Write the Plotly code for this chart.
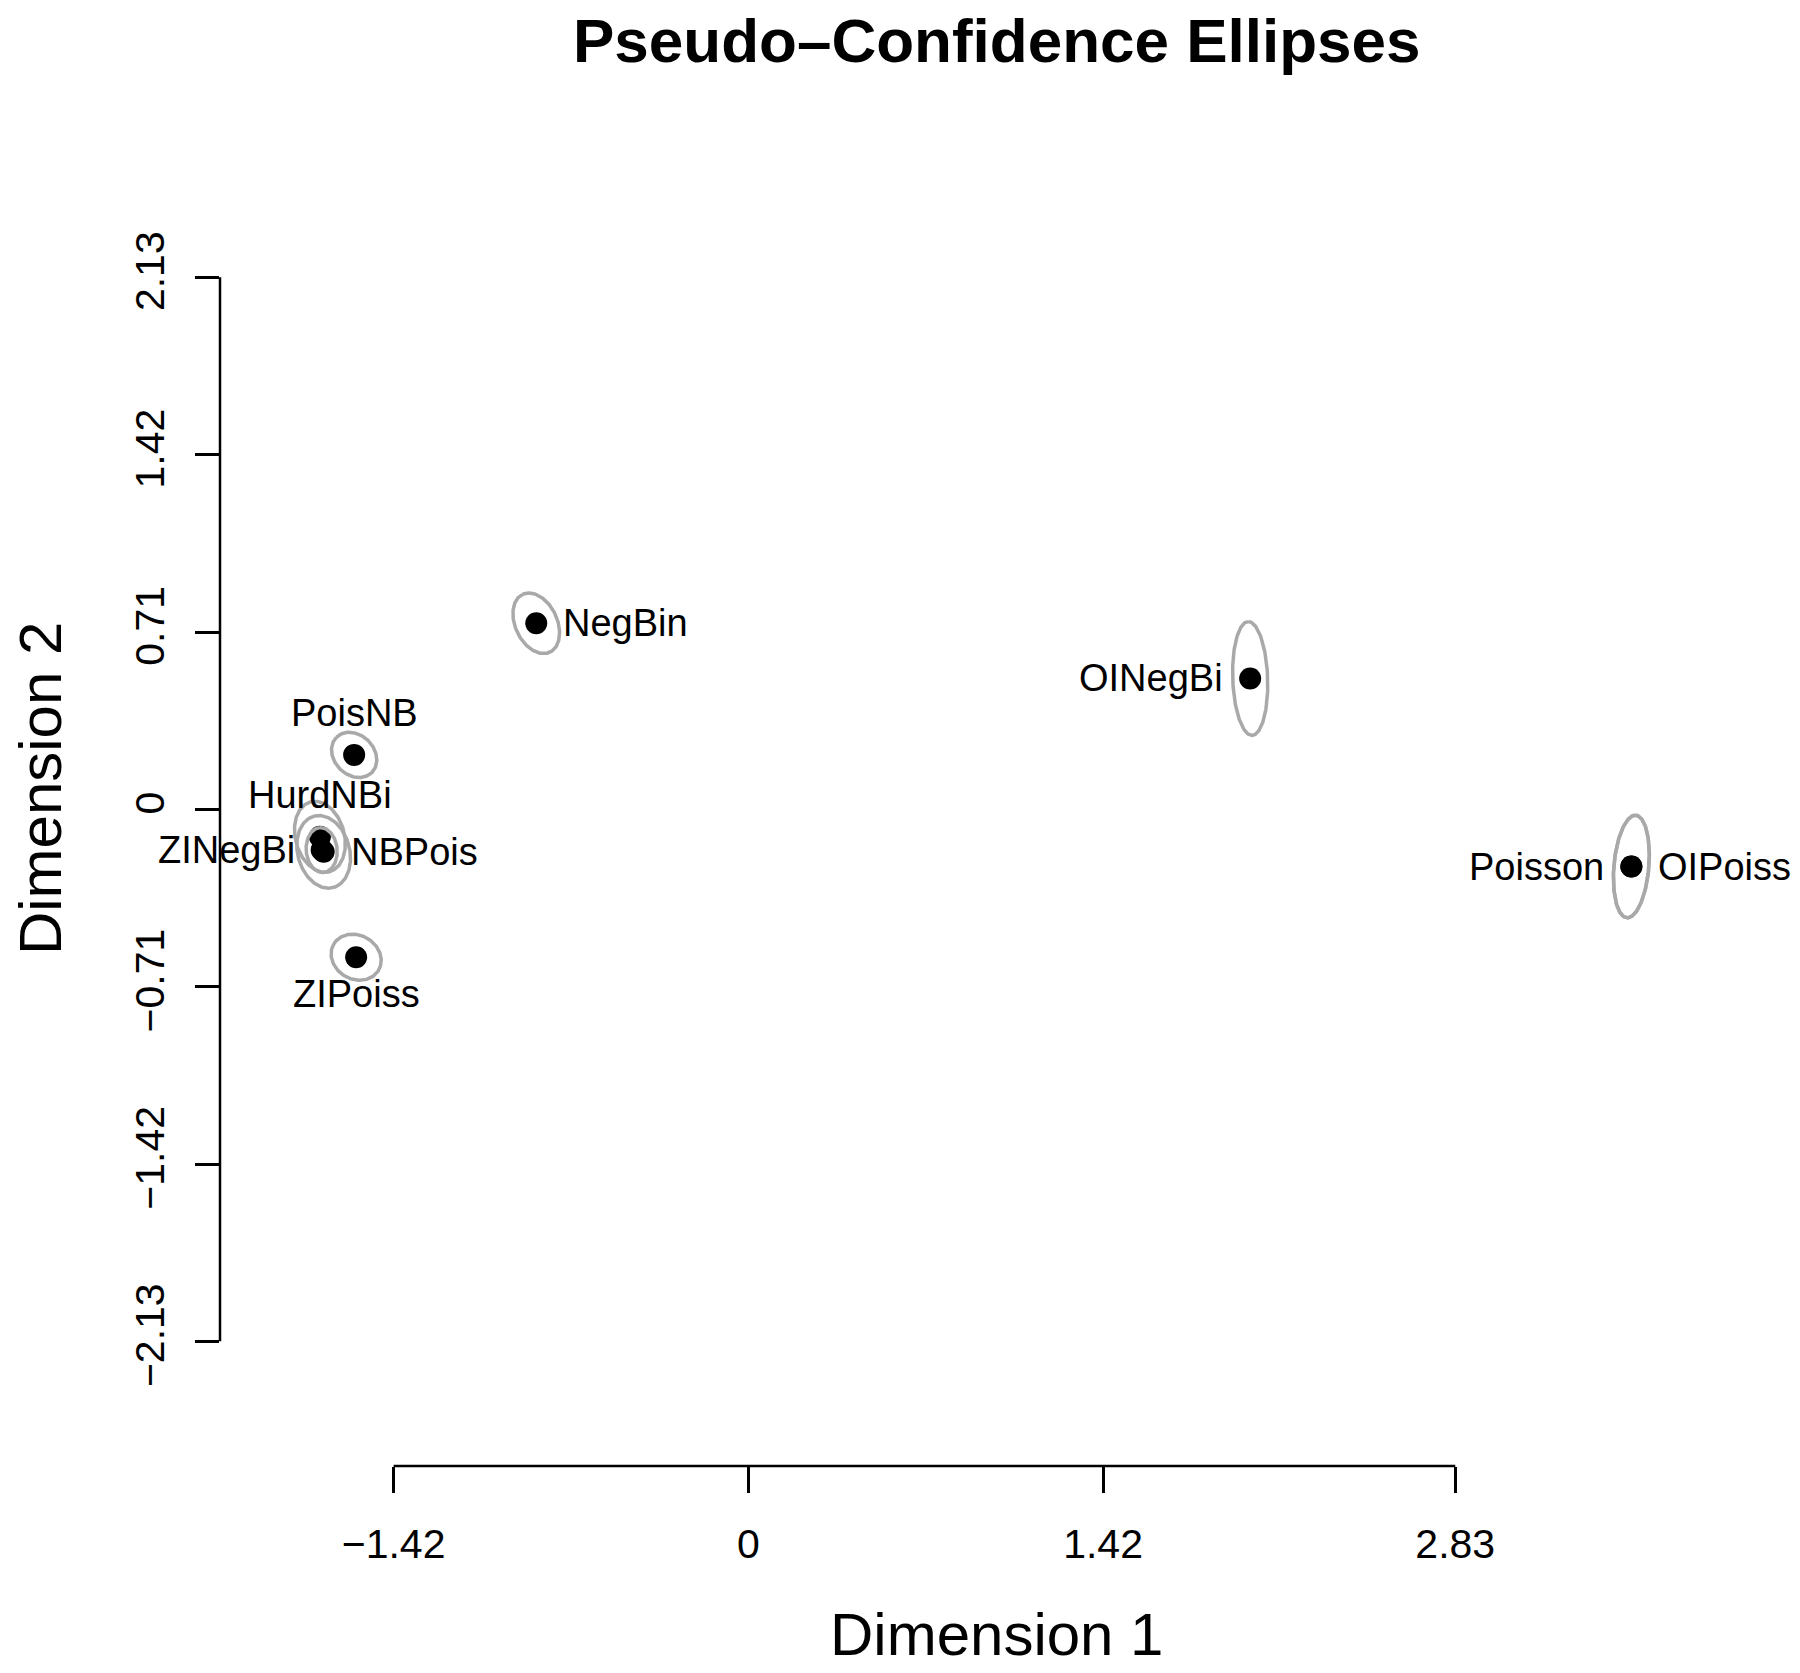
import numpy as np
import plotly.graph_objects as go

# ---- data ----
models = ["NegBin", "OINegBi", "Poisson", "OIPoiss", "PoisNB",
          "HurdNBi", "ZINegBi", "NBPois", "ZIPoiss"]
dim1 = [-0.849, 2.009, 3.535, 3.535, -1.578, -1.715, -1.708, -1.700, -1.570]
dim2 = [0.745, 0.524, -0.229, -0.229, 0.218, -0.110, -0.163, -0.170, -0.592]
label_pos = ["right", "left", "left", "right", "top", "top", "left", "right", "bottom"]

# ellipse semi-axes (data units) and orientation of the first axis (degrees)
ell_a = [0.128, 0.228, 0.206, 0.206, 0.100, 0.145, 0.090, 0.148, 0.104]
ell_b = [0.084, 0.070, 0.070, 0.070, 0.080, 0.098, 0.062, 0.104, 0.088]
ell_ang = [115, 92, 85, 85, 135, 105, 95, 105, 150]

x_ticks = [-1.42, 0, 1.42, 2.83]
x_ticktext = ["\u22121.42", "0", "1.42", "2.83"]
y_ticks = [-2.13, -1.42, -0.71, 0, 0.71, 1.42, 2.13]
y_ticktext = ["\u22122.13", "\u22121.42", "\u22120.71", "0", "0.71", "1.42", "2.13"]

title = "Pseudo\u2013Confidence Ellipses"
xlabel = "Dimension 1"
ylabel = "Dimension 2"

FONT = "Liberation Sans, Arial, Helvetica, sans-serif"

fig = go.Figure()

# points
fig.add_trace(go.Scatter(
    x=dim1, y=dim2, mode="markers",
    marker=dict(color="black", size=22, line=dict(width=0)),
    hoverinfo="text", text=models, showlegend=False))

# ellipses (drawn over the points, as in the original)
t = np.linspace(0, 2 * np.pi, 181)
for cx, cy, a, b, ang in zip(dim1, dim2, ell_a, ell_b, ell_ang):
    ph = np.deg2rad(ang)
    ex = cx + a * np.cos(t) * np.cos(ph) - b * np.sin(t) * np.sin(ph)
    ey = cy + a * np.cos(t) * np.sin(ph) + b * np.sin(t) * np.cos(ph)
    fig.add_trace(go.Scatter(
        x=ex, y=ey, mode="lines",
        line=dict(color="#a9a9a9", width=3.5),
        hoverinfo="skip", showlegend=False))

# point labels
for name, x, y, pos in zip(models, dim1, dim2, label_pos):
    kw = dict(x=x, y=y, xref="x", yref="y", text=name, showarrow=False,
              font=dict(family=FONT, size=38, color="black"))
    if pos == "right":
        kw.update(xanchor="left", yanchor="middle", xshift=25)
    elif pos == "left":
        kw.update(xanchor="right", yanchor="middle", xshift=-25)
    elif pos == "top":
        kw.update(xanchor="center", yanchor="middle", yshift=42)
    else:
        kw.update(xanchor="center", yanchor="middle", yshift=-37)
    fig.add_annotation(**kw)

# detached R-style axis lines
fig.add_shape(type="line", xref="x", yref="paper",
              x0=x_ticks[0], x1=x_ticks[-1], y0=0, y1=0,
              line=dict(color="black", width=2.5))
fig.add_shape(type="line", xref="paper", yref="y",
              x0=0, x1=0, y0=y_ticks[0], y1=y_ticks[-1],
              line=dict(color="black", width=2.5))

# titles
fig.add_annotation(text="<b>" + title + "</b>", xref="paper", yref="paper",
                   x=0.4986, y=1.0439, xanchor="center", yanchor="middle",
                   showarrow=False, font=dict(family=FONT, size=62, color="black"))
fig.add_annotation(text=xlabel, xref="paper", yref="paper",
                   x=0.4984, y=-0.1237, xanchor="center", yanchor="middle",
                   showarrow=False, font=dict(family=FONT, size=60, color="black"))
fig.add_annotation(text=ylabel, xref="paper", yref="paper",
                   x=-0.1155, y=0.4963, xanchor="center", yanchor="middle",
                   textangle=-90, showarrow=False,
                   font=dict(family=FONT, size=60, color="black"))

fig.update_layout(
    width=1800, height=1673,
    margin=dict(l=220, r=22, t=100, b=207, pad=0),
    paper_bgcolor="white", plot_bgcolor="white",
    font=dict(family=FONT, color="black"),
    xaxis=dict(range=[-2.115, 4.122], tickvals=x_ticks, ticktext=x_ticktext,
               ticks="outside", ticklen=26, tickwidth=2.5, tickcolor="black",
               showline=False, showgrid=False, zeroline=False,
               tickfont=dict(family=FONT, size=41, color="black"),
               ticklabelstandoff=16),
    yaxis=dict(range=[-2.629, 2.840], tickvals=y_ticks, ticktext=y_ticktext,
               ticks="outside", ticklen=24, tickwidth=2.5, tickcolor="black",
               showline=False, showgrid=False, zeroline=False, tickangle=-90,
               tickfont=dict(family=FONT, size=41, color="black"),
               ticklabelstandoff=15),
    showlegend=False,
)

fig.write_html("out.html",
               config={"displayModeBar": False},
               post_script="document.body.style.margin='0px';"
                           "document.body.style.overflow='hidden';")
